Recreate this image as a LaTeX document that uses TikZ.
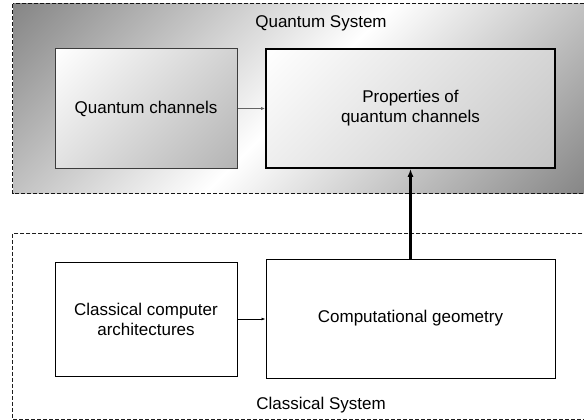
\documentclass[tikz,border=0pt]{standalone}
\usepackage{fontspec}
\setmainfont{Liberation Sans}
\usetikzlibrary{arrows.meta}
\definecolor{sysdark}{RGB}{134,134,134}
\definecolor{qcend}{RGB}{180,180,180}
\definecolor{prend}{RGB}{196,196,196}
\definecolor{qdash}{RGB}{20,20,20}
\definecolor{cdash}{RGB}{30,30,30}
\definecolor{thinarrow}{RGB}{100,100,100}
\pgfdeclarehorizontalshading{sysshade}{100bp}{color(0bp)=(sysdark); color(14.6bp)=(sysdark); color(50bp)=(white); color(85.4bp)=(sysdark); color(100bp)=(sysdark)}
\pgfdeclarehorizontalshading{qcshade}{100bp}{color(0bp)=(white); color(14.6bp)=(white); color(85.4bp)=(qcend); color(100bp)=(qcend)}
\pgfdeclarehorizontalshading{prshade}{100bp}{color(0bp)=(white); color(14.6bp)=(white); color(85.4bp)=(prend); color(100bp)=(prend)}
\begin{document}
\begin{tikzpicture}[x=1pt,y=-1pt,
  txt/.style={font=\fontsize{17}{20}\selectfont, align=center, inner sep=0pt},
  boxnode/.style={txt, draw, rectangle, line width=1pt},
  dashborder/.style={dash pattern=on 4pt off 2pt, line width=1pt},
  container/.style={rectangle, inner sep=0pt},
  thinarr/.style={-{Latex[length=4pt,width=3pt]}, line width=0.8pt},
  thickarr/.style={-{Latex[length=8pt,width=6pt]}, line width=2.5pt}]
\useasboundingbox (0,0) rectangle (584,420);
\clip (0,0) rectangle (584,420);
% containers
\node[container, shading=sysshade, shading angle=-45,
  minimum width=573pt, minimum height=189pt] (qsys) at (299.5,98.5) {};
\draw[dashborder, draw=qdash] (qsys.north west) rectangle (qsys.south east);
\node[container, fill=white,
  minimum width=573pt, minimum height=185pt] (csys) at (299.5,326.5) {};
\draw[dashborder, draw=cdash] (csys.north west) rectangle (csys.south east);
\node[txt] (qlabel) at (321,23) {Quantum System};
\node[txt] (clabel) at (321,405) {Classical System};
% boxes
\node[boxnode, draw={rgb,255:red,60;green,60;blue,60}, shading=qcshade, shading angle=-45,
  minimum width=182pt, minimum height=119pt] (qc) at (146,108.5) {Quantum channels};
\node[boxnode, line width=1.6pt, shading=prshade, shading angle=-45,
  minimum width=289pt, minimum height=119pt] (prop) at (410.5,108.5) {Properties of\\quantum channels};
\node[boxnode, fill=white, minimum width=182pt, minimum height=114pt] (cca) at (146,319) {Classical computer\\architectures};
\node[boxnode, fill=white, minimum width=289pt, minimum height=119pt] (cg) at (410.5,318.5) {Computational geometry};
% connectors
\draw[thinarr, draw=thinarrow] (qc.east) -- (prop.west);
\draw[thinarr] (cca.east) -- (cca.east -| cg.west);
\draw[thickarr] (cg.north) -- (prop.south);
\end{tikzpicture}
\end{document}
